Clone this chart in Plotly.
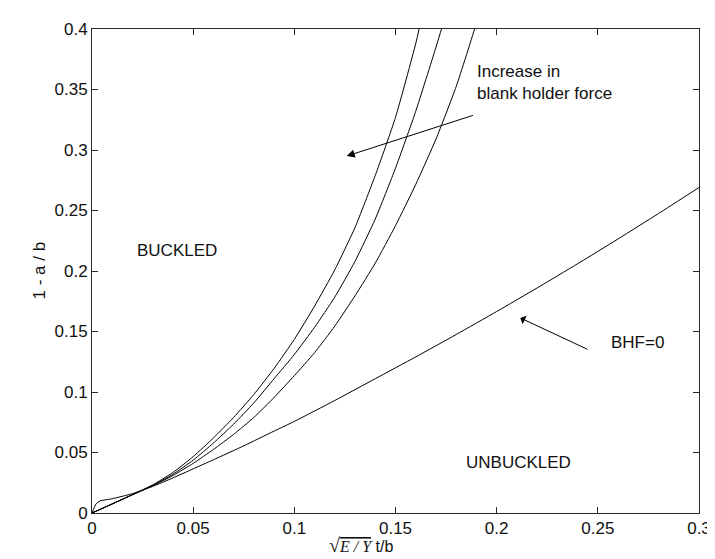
import plotly.graph_objects as go

# BHF = 0 curve
bhf0_x = [0, 0.002, 0.004, 0.01, 0.02, 0.03, 0.04, 0.05, 0.06, 0.075, 0.09, 0.1, 0.12,
          0.14, 0.16, 0.18, 0.2, 0.22, 0.24, 0.26, 0.28, 0.3]
bhf0_y = [0, 0.0075, 0.0100, 0.0118, 0.0160, 0.0220, 0.0290, 0.0365, 0.0440, 0.0555,
          0.0677, 0.0757, 0.0930, 0.1110, 0.1290, 0.1475, 0.1665, 0.1860, 0.2060, 0.2265,
          0.2475, 0.2690]

# curves with increasing blank holder force (right -> left)
low_x = [0, 0.01, 0.02, 0.03, 0.04, 0.05, 0.06, 0.07, 0.08, 0.09, 0.1, 0.11, 0.12, 0.13,
         0.14, 0.15, 0.16, 0.17, 0.18, 0.19, 0.195]
low_y = [0, 0.0075, 0.015, 0.0225, 0.031, 0.041, 0.0525, 0.065, 0.079, 0.0955, 0.1135,
         0.1325, 0.1545, 0.1795, 0.2065, 0.2375, 0.2715, 0.309, 0.3525, 0.405, 0.435]

mid_x = [0, 0.01, 0.02, 0.03, 0.04, 0.05, 0.06, 0.07, 0.08, 0.09, 0.1, 0.11, 0.12, 0.13,
         0.14, 0.15, 0.16, 0.17, 0.18]
mid_y = [0, 0.0075, 0.0152, 0.0228, 0.032, 0.0437, 0.0578, 0.0735, 0.091, 0.111, 0.131,
         0.1535, 0.1785, 0.208, 0.243, 0.285, 0.332, 0.385, 0.44]

high_x = [0, 0.01, 0.02, 0.03, 0.04, 0.05, 0.06, 0.07, 0.08, 0.09, 0.1, 0.11, 0.12, 0.13,
          0.14, 0.15, 0.16, 0.165]
high_y = [0, 0.0075, 0.0152, 0.0232, 0.0335, 0.0466, 0.062, 0.079, 0.098, 0.1195, 0.1435,
          0.171, 0.201, 0.236, 0.279, 0.327, 0.388, 0.425]

x_ticks = [0, 0.05, 0.1, 0.15, 0.2, 0.25, 0.3]
y_ticks = [0, 0.05, 0.1, 0.15, 0.2, 0.25, 0.3, 0.35, 0.4]

FONT = "Liberation Sans, Arial, sans-serif"
AX = "#2a2a2a"

fig = go.Figure()
for xs, ys in [(bhf0_x, bhf0_y), (low_x, low_y), (mid_x, mid_y), (high_x, high_y)]:
    fig.add_trace(go.Scatter(x=xs, y=ys, mode="lines",
                             line=dict(color="black", width=1, shape="spline", smoothing=0.5),
                             showlegend=False, hoverinfo="skip", cliponaxis=True))

axis_common = dict(showline=True, linecolor=AX, linewidth=1, mirror="ticks",
                   ticks="inside", ticklen=6, tickcolor=AX, showgrid=False, zeroline=False,
                   tickfont=dict(family=FONT, size=17, color="#111"))
fig.update_xaxes(range=[0, 0.3], tickvals=x_ticks,
                 ticktext=[f"{v:g}" for v in x_ticks], **axis_common)
fig.update_yaxes(range=[0, 0.4], tickvals=y_ticks,
                 ticktext=[f"{v:g}" for v in y_ticks], **axis_common)

txt = dict(family=FONT, size=17, color="#111")
fig.add_annotation(x=0.042, y=0.217, text="BUCKLED", showarrow=False, font=txt)
fig.add_annotation(x=0.211, y=0.0418, text="UNBUCKLED", showarrow=False, font=txt)
fig.add_annotation(x=0.2694, y=0.141, text="BHF=0", showarrow=False, font=txt)
fig.add_annotation(x=0.1895, y=0.356, text="Increase in<br>blank holder force",
                   showarrow=False, font=txt, xanchor="left", align="left")

# arrows
fig.add_annotation(x=0.1259, y=0.295, ax=0.189, ay=0.329, axref="x", ayref="y",
                   text="", showarrow=True, arrowhead=2, arrowsize=1.6, arrowwidth=1,
                   arrowcolor="black")
fig.add_annotation(x=0.2117, y=0.1612, ax=0.2456, ay=0.1347, axref="x", ayref="y",
                   text="", showarrow=True, arrowhead=1, arrowsize=1.6, arrowwidth=1,
                   arrowcolor="black")

# axis titles
fig.add_annotation(xref="paper", yref="paper", x=-0.107, y=0.5, text="1 - a / b",
                   textangle=-90, showarrow=False, font=txt)
fig.add_annotation(xref="x", yref="paper", x=0.1328, y=-0.094,
                   text="<span style='font-family:Liberation Serif;font-size:20px'>√</span>"
                        "<span style='text-decoration:overline;font-family:Liberation Serif'>"
                        "<i>E / Y</i></span> t/b",
                   showarrow=False, font=dict(family=FONT, size=16, color="#111"))

fig.update_layout(width=715, height=559, margin=dict(l=84, r=12, t=17, b=54),
                  plot_bgcolor="white", paper_bgcolor="white")
fig.write_html("out.html")
